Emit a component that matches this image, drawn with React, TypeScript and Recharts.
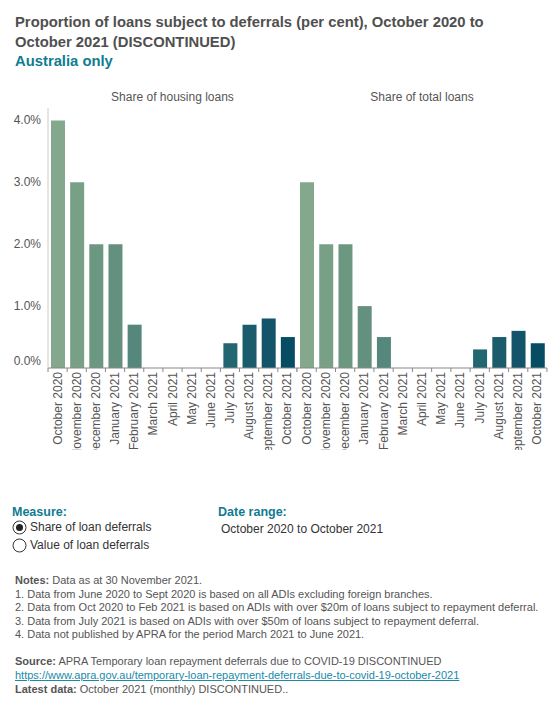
import { BarChart, Bar, XAxis, YAxis, Cell } from 'recharts';

const months = [
  'October 2020', 'November 2020', 'December 2020', 'January 2021', 'February 2021',
  'March 2021', 'April 2021', 'May 2021', 'June 2021',
  'July 2021', 'August 2021', 'September 2021', 'October 2021',
];
const housingShare = [4.0, 3.0, 2.0, 2.0, 0.7, null, null, null, null, 0.4, 0.7, 0.8, 0.5];
const totalShare = [3.0, 2.0, 2.0, 1.0, 0.5, null, null, null, null, 0.3, 0.5, 0.6, 0.4];
const monthColors = [
  '#84a88c', '#78a087', '#6c9882', '#64907f', '#55877d', '#4a7f7b', '#407779', '#366f77', '#2c6b74',
  '#216670', '#1a5c6c', '#13546a', '#064d64',
];
const yTicks = [0, 1, 2, 3, 4];

const housingData = months.map((m, i) => ({ month: m, value: housingShare[i] }));
const totalData = months.map((m, i) => ({ month: m, value: totalShare[i] }));

const FONT = 'Arial, "Liberation Sans", sans-serif';
const TEXT = '#555';
const PLOT_W = 249;
const BAND = PLOT_W / months.length;
const BASE_Y = 288;

const MonthTick = (props: any) => {
  const { x, payload, index } = props;
  const left = x - BAND / 2;
  return (
    <g>
      <line x1={left} y1={BASE_Y} x2={left} y2={BASE_Y + 4} stroke="#888" />
      {index === months.length - 1 && (
        <line x1={x + BAND / 2} y1={BASE_Y} x2={x + BAND / 2} y2={BASE_Y + 4} stroke="#888" />
      )}
      <text
        x={x + 4}
        y={BASE_Y + 4}
        transform={`rotate(-90, ${x + 4}, ${BASE_Y + 4})`}
        textAnchor="end"
        fontSize={12}
        fill={TEXT}
        fontFamily={FONT}
      >
        {payload.value}
      </text>
    </g>
  );
};

const PercentTick = (props: any) => {
  const { y, payload } = props;
  const yy = payload.value === 0 ? y - 7 : y;
  return (
    <text x={41} y={yy + 4} textAnchor="end" fontSize={12} fill={TEXT} fontFamily={FONT}>
      {payload.value.toFixed(1) + '%'}
    </text>
  );
};

const Radio: React.FC<{ on: boolean }> = ({ on }) => (
  <svg width={15} height={15} style={{ verticalAlign: 'middle', marginRight: 3 }}>
    <circle cx={7.5} cy={7.5} r={6.5} fill="#fff" stroke="#333" strokeWidth={1} />
    {on && <circle cx={7.5} cy={7.5} r={3.5} fill="#222" />}
  </svg>
);

const App = () => {
  return (
    <div style={{ position: 'absolute', left: 0, top: 0, width: 560, height: 710, fontFamily: FONT, background: '#fff' }}>
      <div style={{ position: 'absolute', left: 15, top: 13, fontSize: 14.8, fontWeight: 'bold', color: '#4f4f4f', lineHeight: '19.5px' }}>
        Proportion of loans subject to deferrals (per cent), October 2020 to
        <br />
        October 2021 (DISCONTINUED)
        <br />
        <span style={{ color: '#0f7c92' }}>Australia only</span>
      </div>

      <div style={{ position: 'absolute', left: 48, width: 249, top: 90, textAlign: 'center', fontSize: 12, color: TEXT }}>
        Share of housing loans
      </div>
      <div style={{ position: 'absolute', left: 297, width: 250, top: 90, textAlign: 'center', fontSize: 12, color: TEXT }}>
        Share of total loans
      </div>

      <div style={{ position: 'absolute', left: 0, top: 80 }}>
        <BarChart width={297} height={370} data={housingData} margin={{ top: 28, right: 0, left: 0, bottom: 0 }}>
          <XAxis dataKey="month" interval={0} height={82} axisLine={{ stroke: '#888' }} tickLine={false} tick={<MonthTick />} />
          <YAxis width={48} domain={[0, 4.2]} ticks={yTicks} axisLine={{ stroke: '#ccc' }} tickLine={false} tick={<PercentTick />} />
          <Bar dataKey="value" barSize={14} isAnimationActive={false}>
            {housingData.map((d, i) => (
              <Cell key={d.month} fill={monthColors[i]} />
            ))}
          </Bar>
        </BarChart>
      </div>

      <div style={{ position: 'absolute', left: 296, top: 80 }}>
        <BarChart width={253} height={370} data={totalData} margin={{ top: 28, right: 2, left: 1, bottom: 0 }}>
          <XAxis dataKey="month" interval={0} height={82} axisLine={{ stroke: '#888' }} tickLine={false} tick={<MonthTick />} />
          <YAxis yAxisId="l" width={0} domain={[0, 4.2]} ticks={yTicks} axisLine={{ stroke: '#ccc' }} tickLine={false} tick={false} />
          <YAxis yAxisId="r" orientation="right" width={0} domain={[0, 4.2]} ticks={yTicks} axisLine={{ stroke: '#ccc' }} tickLine={false} tick={false} />
          <Bar yAxisId="l" dataKey="value" barSize={14} isAnimationActive={false}>
            {totalData.map((d, i) => (
              <Cell key={d.month} fill={monthColors[i]} />
            ))}
          </Bar>
        </BarChart>
      </div>

      <div style={{ position: 'absolute', left: 12, top: 505, fontSize: 12, color: '#333' }}>
        <div style={{ fontWeight: 'bold', color: '#0f7c92', fontSize: 12.5 }}>Measure:</div>
        <div style={{ marginTop: 1, height: 18 }}><Radio on={true} />Share of loan deferrals</div>
        <div style={{ height: 18 }}><Radio on={false} />Value of loan deferrals</div>
      </div>
      <div style={{ position: 'absolute', left: 218, top: 505, fontSize: 12, color: '#333' }}>
        <div style={{ fontWeight: 'bold', color: '#0f7c92', fontSize: 12.5 }}>Date range:</div>
        <div style={{ marginTop: 3, marginLeft: 3 }}>October 2020 to October 2021</div>
      </div>

      <div style={{ position: 'absolute', left: 15, top: 574, fontSize: 11, color: TEXT, lineHeight: '13.5px' }}>
        <div><b>Notes:</b> Data as at 30 November 2021.</div>
        <div>1. Data from June 2020 to Sept 2020 is based on all ADIs excluding foreign branches.</div>
        <div>2. Data from Oct 2020 to Feb 2021 is based on ADIs with over $20m of loans subject to repayment deferral.</div>
        <div>3. Data from July 2021 is based on ADIs with over $50m of loans subject to repayment deferral.</div>
        <div>4. Data not published by APRA for the period March 2021 to June 2021.</div>
      </div>

      <div style={{ position: 'absolute', left: 15, top: 655, fontSize: 11, color: TEXT, lineHeight: '13.8px' }}>
        <div><b>Source:</b> APRA Temporary loan repayment deferrals due to COVID-19 DISCONTINUED</div>
        <div style={{ color: '#1a8aa8', textDecoration: 'underline' }}>
          https://www.apra.gov.au/temporary-loan-repayment-deferrals-due-to-covid-19-october-2021
        </div>
        <div><b>Latest data:</b> October 2021 (monthly) DISCONTINUED..</div>
      </div>
    </div>
  );
};

export default App;
